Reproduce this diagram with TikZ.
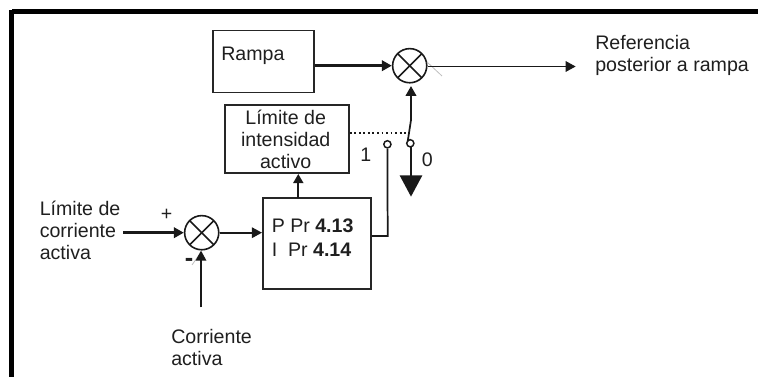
\documentclass[tikz,border=0pt]{standalone}
\usepackage{fontspec}
\setmainfont{Liberation Sans}
\usetikzlibrary{arrows.meta}
\tikzset{
  x=0.75pt,y=-0.75pt,
  txt/.style={inner sep=0pt,align=left,font=\fontsize{14.7pt}{16.5pt}\selectfont,text=black!88},
  blockbox/.style={draw=black!85,line width=1.2pt,inner sep=0pt},
  wire/.style={draw=black!90,line width=1.3pt},
  thick wire/.style={draw=black!90,line width=2.1pt},
  tip/.style={-{Triangle[length=7.5pt,width=7.8pt]}},
  contact/.style={circle,draw=black!90,fill=white,line width=1.1pt,minimum size=5.4pt,inner sep=0pt},
  junction/.style={circle,draw=black!90,line width=1.2pt,minimum size=25.6pt,inner sep=0pt,path picture={
    \draw[black!90,line width=1.2pt] ([xshift=3.75pt,yshift=-3.75pt]path picture bounding box.north west) -- ([xshift=-3.75pt,yshift=3.75pt]path picture bounding box.south east);
    \draw[black!90,line width=1.2pt] ([xshift=-3.75pt,yshift=-3.75pt]path picture bounding box.north east) -- ([xshift=3.75pt,yshift=3.75pt]path picture bounding box.south west);}},
}
\begin{document}
\begin{tikzpicture}
\useasboundingbox (0,0) rectangle (758,377);
\fill[black] (12,9) rectangle (758,14);
\fill[black] (9,10) rectangle (14,377);
% blocks
\node[blockbox,minimum width=76pt,minimum height=46.5pt] (ramp) at (263.4,61.7) {};
\node[txt,anchor=base west] (ramptxt) at (221,60.7) {Rampa};
\node[blockbox,minimum width=93pt,minimum height=50.7pt] (lim) at (287,139) {};
\node[txt,align=center,anchor=north] (limtxt) at (285.7,109.5) {Límite de\\intensidad\\activo};
\node[blockbox,minimum width=81.2pt,minimum height=68.25pt] (pi) at (316.9,243.5) {};
\node[txt,anchor=north west,font=\fontsize{14.7pt}{18.3pt}\selectfont] (pitxt) at (271.5,218.5) {P Pr \textbf{4.13}\\I\ \ Pr \textbf{4.14}};
% junctions
\node[junction] (sumtop) at (409.7,65.7) {};
\node[junction] (sumlow) at (201.7,232.7) {};
% contacts
\node[contact] (c1) at (387.4,144.3) {};
\node[contact] (c0) at (410.3,143.3) {};
\coordinate (refend) at (575.7,66.5);
\coordinate (gnd) at (411,196.7);
\coordinate (limin) at (123.3,232.7);
\coordinate (corrin) at (201,307.3);
\coordinate (bend) at (387.7,236);
\coordinate (arm) at (411,120);
\coordinate (dot) at (407,132.7);
\coordinate (armend) at (407.7,141.5);
% connectors
\draw[thick wire,tip] (ramp.east |- sumtop) -- (sumtop.west);
\draw[draw=black!25,line width=.6pt] (427,62) -- (442,76);
\draw[wire,tip] (sumtop.east |- refend) -- (refend);
\draw[thick wire,tip,shorten >=1.8pt] (arm) -- (arm |- sumtop.south);
\draw[wire] (arm) -- (armend);
\draw[thick wire,-{Triangle[length=16pt,width=16.5pt]}] (411,146) -- (gnd);
\draw[draw=black!90,dotted,line width=1.4pt] (lim.east |- dot) -- (dot);
\draw[wire] (c1.south) -- (bend) -- (pi.east |- bend);
\draw[wire,-{Triangle[length=6.8pt,width=7.5pt]}] (298.3,198) -- (298.3,174);
\draw[thick wire,tip] (limin) -- (sumlow.west);
\draw[wire,tip] (sumlow.east) -- (pi.west |- sumlow);
\draw[draw=black!25,line width=.6pt] (199,255) -- (192,265);
\draw[wire,tip] (corrin) -- (corrin |- sumlow.south);
% labels
\node[txt,anchor=north west] (l1) at (595,35) {Referencia\\posterior a rampa};
\node[txt,anchor=north west] (l2) at (39.5,200.5) {Límite de\\corriente\\activa};
\node[txt,anchor=north west] (l3) at (171,329.5) {Corriente\\activa};
\node[txt] (l4) at (166.7,215) {+};
\node[txt,font=\fontsize{19pt}{19pt}\selectfont\bfseries] (l5) at (189,262) {-};
\node[txt] (l6) at (365.7,155) {1};
\node[txt] (l7) at (427.3,160) {0};
\end{tikzpicture}
\end{document}
